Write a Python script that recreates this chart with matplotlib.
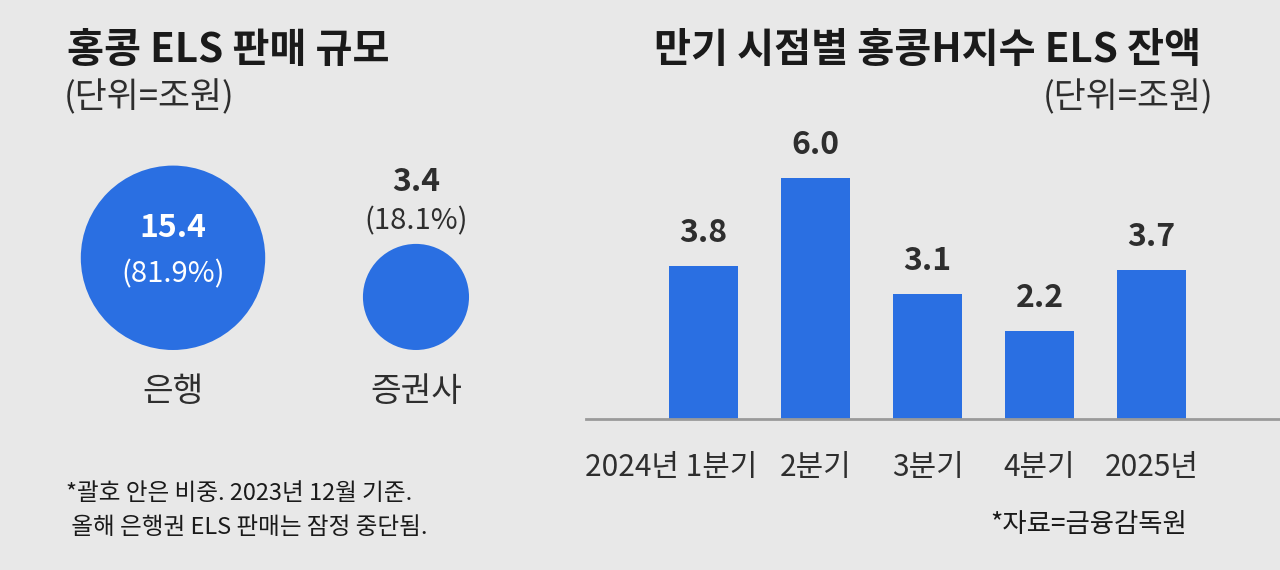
import matplotlib
matplotlib.use('Agg')
import matplotlib.pyplot as plt
from matplotlib.patches import Circle
from matplotlib.transforms import ScaledTranslation

plt.rcParams['font.family'] = ['Noto Sans CJK KR', 'DejaVu Sans']

# Left panel: sales by channel (trillion won)
sellers = ['은행', '증권사']
sales = [15.4, 3.4]
shares = [81.9, 18.1]

# Right panel: outstanding balance by maturity (trillion won)
periods = ['2024년 1분기', '2분기', '3분기', '4분기', '2025년']
balance = [3.8, 6.0, 3.1, 2.2, 3.7]

BG = '#e8e8e8'
BLUE = '#2a6fe2'
DARK = '#1a1a1a'
GREY = '#2e2e2e'

W, H = 1280, 570
fig = plt.figure(figsize=(W / 100, H / 100), dpi=100, facecolor=BG)


def fx(px):
    return px / W


def fy(py):
    return 1 - py / H


# ---- left: bubbles ----
axl = fig.add_axes([0, 0, 0.5, 1])
axl.set_facecolor(BG)
axl.set_xlim(-0.712, 1.922)
axl.set_ylim(-0.905, 1.440)
axl.set_aspect('equal')
axl.axis('off')

for i, (name, v, s) in enumerate(zip(sellers, sales, shares)):
    r = 0.1395 * v ** 0.366
    axl.add_patch(Circle((i, r), r, color=BLUE, lw=0))
    if r > 0.3:
        axl.annotate(f'{v:.1f}', (i, r), xytext=(0, 30), textcoords='offset pixels',
                     ha='center', va='center', fontsize=23, fontweight='bold', color='white')
        axl.annotate(f'({s:.1f}%)', (i, r), xytext=(0, -17), textcoords='offset pixels',
                     ha='center', va='center', fontsize=21, color='white')
    else:
        axl.annotate(f'{v:.1f}', (i, 2 * r), xytext=(0, 62), textcoords='offset pixels',
                     ha='center', va='center', fontsize=23, fontweight='bold', color=GREY)
        axl.annotate(f'({s:.1f}%)', (i, 2 * r), xytext=(0, 23), textcoords='offset pixels',
                     ha='center', va='center', fontsize=21, color=GREY)
    axl.annotate(name, (i, 0), xytext=(0, -42), textcoords='offset pixels',
                 ha='center', va='center', fontsize=24, color=GREY)

# ---- right: bars ----
px_per_unit = 40.2
axr = fig.add_axes([fx(586), fy(419), 1 - fx(586), 8 * px_per_unit / H])
axr.set_facecolor(BG)
x = list(range(len(periods)))
axr.bar(x, balance, width=0.616, color=BLUE)
axr.set_xlim(-1.049, 5.147)
axr.set_ylim(0, 8)
for side in ['top', 'left', 'right']:
    axr.spines[side].set_visible(False)
axr.spines['bottom'].set_color('#9a9a9a')
axr.spines['bottom'].set_linewidth(2)
axr.set_yticks([])
axr.set_xticks(x, periods, fontsize=21.5, color=GREY)
axr.tick_params(axis='x', length=0, pad=24)
first = axr.get_xticklabels()[0]
first.set_ha('right')
first.set_transform(first.get_transform() + ScaledTranslation(0.54, 0, fig.dpi_scale_trans))
for i, v in enumerate(balance):
    axr.annotate(f'{v:.1f}', (i, v), xytext=(0, 33), textcoords='offset pixels',
                 ha='center', va='center', fontsize=23, fontweight='bold', color=GREY)

# ---- texts ----
fig.text(fx(67), fy(50), '홍콩 ELS 판매 규모', fontsize=29, fontweight='bold',
         color=DARK, ha='left', va='center')
fig.text(fx(64), fy(98), '(단위=조원)', fontsize=25, color=GREY, ha='left', va='center')
fig.text(fx(1201), fy(50), '만기 시점별 홍콩H지수 ELS 잔액', fontsize=29, fontweight='bold',
         color=DARK, ha='right', va='center')
fig.text(fx(1214), fy(98), '(단위=조원)', fontsize=25, color=GREY, ha='right', va='center')
fig.text(fx(66), fy(493), '*괄호 안은 비중. 2023년 12월 기준.', fontsize=17,
         color=DARK, ha='left', va='center')
fig.text(fx(66), fy(527), ' 올해 은행권 ELS 판매는 잠정 중단됨.', fontsize=17,
         color=DARK, ha='left', va='center')
fig.text(fx(1187), fy(525), '*자료=금융감독원', fontsize=19, color=DARK,
         ha='right', va='center')

fig.savefig('out.png', dpi=100, facecolor=BG)
